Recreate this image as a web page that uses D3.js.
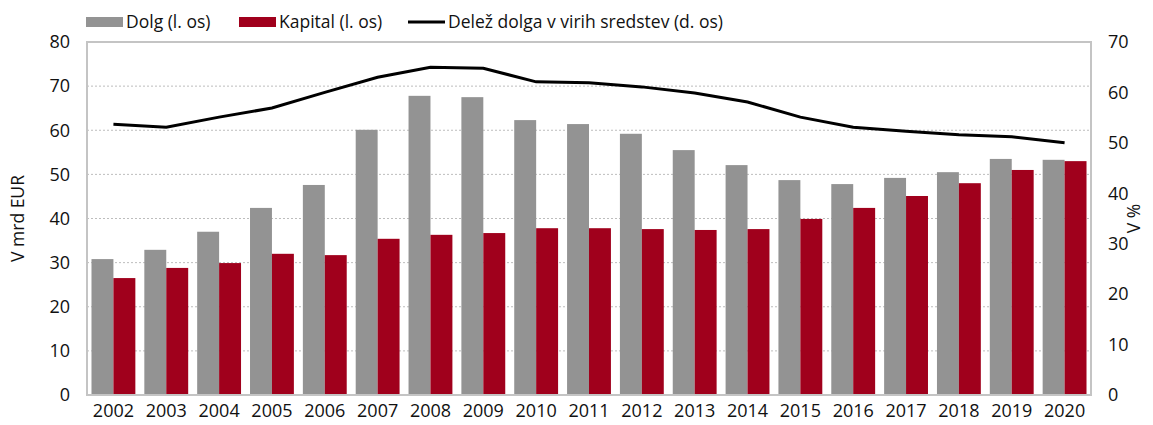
<!DOCTYPE html>
<html>
<head>
<meta charset="utf-8">
<script src="https://cdn.jsdelivr.net/npm/d3@7"></script>
<style>
  body { margin: 0; background: #fff; }
  text { font-family: "Open Sans", "Noto Sans", sans-serif; fill: #111; }
</style>
</head>
<body>
<svg id="chart" width="1153" height="425"></svg>
<script>
var years = ["2002", "2003", "2004", "2005", "2006", "2007", "2008", "2009", "2010", "2011",
    "2012", "2013", "2014", "2015", "2016", "2017", "2018", "2019", "2020"]
var dolg = [30.8, 32.9, 37.0, 42.4, 47.6, 60.1, 67.8, 67.5, 62.3, 61.4,
    59.2, 55.5, 52.1, 48.7, 47.8, 49.2, 50.5, 53.5, 53.3]
var kapital = [26.5, 28.8, 29.9, 32.0, 31.7, 35.4, 36.3, 36.7, 37.8, 37.8,
    37.6, 37.4, 37.6, 39.9, 42.4, 45.1, 48.0, 51.0, 53.0]
var delez = [53.7, 53.1, 55.1, 56.9, 60.0, 63.0, 65.0, 64.8, 62.1, 61.9,
    61.1, 59.9, 58.1, 55.1, 53.1, 52.3, 51.6, 51.2, 50.0]
var leftTicks = [0, 10, 20, 30, 40, 50, 60, 70, 80]
var rightTicks = [0, 10, 20, 30, 40, 50, 60, 70]

// plot area edges
var plotL = 87, plotR = 1091, plotT = 42, plotB = 395
var svg = d3.select("#chart")

var x = d3.scaleBand().domain(years).range([plotL, plotR]).paddingInner(0.17).paddingOuter(0.085)
var yL = d3.scaleLinear().domain([0, 80]).range([plotB, plotT])
var yR = d3.scaleLinear().domain([0, 70]).range([plotB, plotT])

// gridlines
svg.append("g")
    .selectAll("line")
    .data(leftTicks.slice(1, -1))
    .enter()
    .append("line")
    .attr("x1", plotL).attr("x2", plotR)
    .attr("y1", d => yL(d)).attr("y2", d => yL(d))
    .attr("stroke", "#bdbdbd")
    .attr("stroke-width", 1)
    .attr("stroke-dasharray", "2,2")

// bars
var half = x.bandwidth() / 2
svg.append("g").selectAll("rect")
    .data(dolg)
    .enter()
    .append("rect")
    .attr("x", (d, i) => x(years[i]))
    .attr("y", d => yL(d))
    .attr("width", half)
    .attr("height", d => plotB - yL(d))
    .attr("fill", "#939393")

svg.append("g").selectAll("rect")
    .data(kapital)
    .enter()
    .append("rect")
    .attr("x", (d, i) => x(years[i]) + half)
    .attr("y", d => yL(d))
    .attr("width", half)
    .attr("height", d => plotB - yL(d))
    .attr("fill", "#a0001c")

// plot border
svg.append("rect")
    .attr("x", plotL).attr("y", plotT)
    .attr("width", plotR - plotL).attr("height", plotB - plotT)
    .attr("fill", "none")
    .attr("stroke", "#c4c4c4")
    .attr("stroke-width", 2)

// line (right axis)
var line = d3.line()
    .x((d, i) => x(years[i]) + x.bandwidth() / 2)
    .y(d => yR(d))
svg.append("path")
    .datum(delez)
    .attr("d", line)
    .attr("fill", "none")
    .attr("stroke", "#000")
    .attr("stroke-width", 3)

// axes
var axL = d3.axisLeft(yL).tickValues(leftTicks).tickSize(0).tickPadding(17)
var gL = svg.append("g").attr("transform", "translate(" + plotL + ",0)").call(axL)
var axR = d3.axisRight(yR).tickValues(rightTicks).tickSize(0).tickPadding(17)
var gR = svg.append("g").attr("transform", "translate(" + plotR + ",0)").call(axR)
var axB = d3.axisBottom(x).tickSize(0).tickPadding(9)
var gB = svg.append("g").attr("transform", "translate(0," + plotB + ")").call(axB)
;[gL, gR, gB].forEach(g => {
    g.select(".domain").remove()
    g.selectAll("text").style("font-size", "18px").attr("fill", "#111")
        .style("font-family", "'Open Sans', sans-serif")
})

// axis titles
svg.append("text")
    .attr("transform", "translate(24," + ((plotT + plotB) / 2) + ") rotate(-90)")
    .attr("text-anchor", "middle")
    .style("font-size", "17.5px")
    .text("V mrd EUR")
svg.append("text")
    .attr("transform", "translate(1140," + ((plotT + plotB) / 2) + ") rotate(-90)")
    .attr("text-anchor", "middle")
    .style("font-size", "17.5px")
    .text("V %")

// legend
var legend = [
    { name: "Dolg (l. os)", color: "#939393", type: "bar", x: 86 },
    { name: "Kapital (l. os)", color: "#a0001c", type: "bar", x: 239 },
    { name: "Delež dolga v virih sredstev (d. os)", color: "#000", type: "line", x: 408 }
]
var lg = svg.append("g")
legend.forEach(d => {
    if (d.type == "bar") {
        lg.append("rect").attr("x", d.x).attr("y", 17).attr("width", 37).attr("height", 10).attr("fill", d.color)
    } else {
        lg.append("line").attr("x1", d.x).attr("x2", d.x + 37).attr("y1", 22).attr("y2", 22)
            .attr("stroke", d.color).attr("stroke-width", 3)
    }
    lg.append("text").attr("x", d.x + 40).attr("y", 28)
        .style("font-size", "17.5px")
        .text(d.name)
})
</script>
</body>
</html>
